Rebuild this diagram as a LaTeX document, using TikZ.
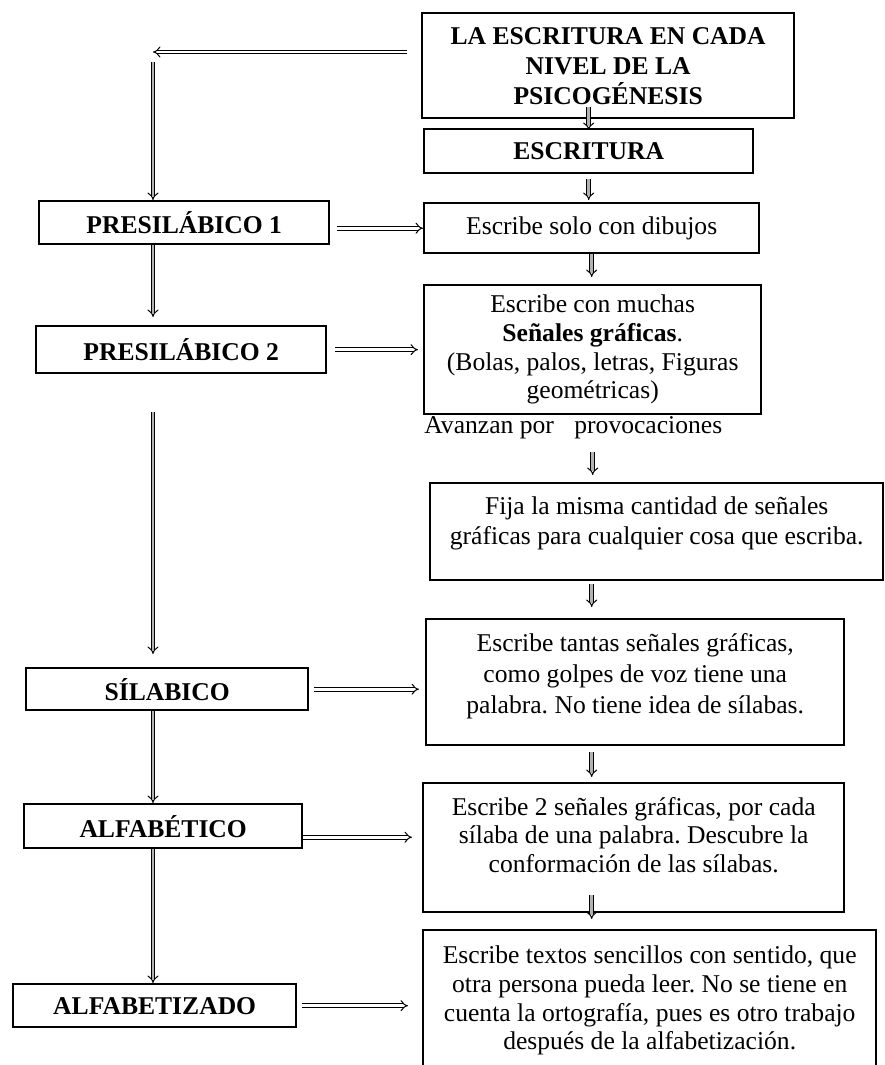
\documentclass[tikz,border=0pt]{standalone}
\usepackage{fontspec}
\setmainfont{Liberation Serif}
\frenchspacing
\usetikzlibrary{arrows.meta,positioning}
\newcommand{\cajatexto}[3]{\parbox[c][#1][t]{#2}{\centering\vspace*{5pt}#3}}

\begin{document}
\begin{tikzpicture}[x=0.5pt,y=-0.5pt,
    every node/.style={font=\fontsize{12.8}{15}\selectfont},
    caja/.style={draw,line width=1.2pt,anchor=north west,inner sep=2pt,align=flush center},
    nivel/.style={caja,font=\fontsize{12.8}{15}\selectfont\bfseries},
    flecha/.style={draw,line width=0.5pt,double=white,double distance=1.4pt,-{Implies}},
    bajada/.style={flecha,double=gray!60}]
       \clip (0,0) rectangle (884,1065);

       % columna derecha
        \node[nivel,minimum width=186pt,minimum height=52.5pt] (titulo) at (421,12) {LA ESCRITURA EN CADA\\NIVEL DE LA\\PSICOGÉNESIS};
        \node[nivel,minimum width=164.5pt,minimum height=22pt] (escritura) at (423,128) {ESCRITURA};
        \node[caja,minimum width=167.5pt,minimum height=25pt] (dibujos) at (423,202) {Escribe solo con dibujos};
        \node[caja,minimum width=168.5pt,minimum height=64.5pt,font=\fontsize{12.8}{14.3}\selectfont] (muchas) at (423,284) {Escribe con muchas\\\textbf{Señales gráficas}.\\(Bolas, palos, letras, Figuras\\geométricas)};
        \node[anchor=west,inner sep=0pt] (avanzan) at (424,428) {Avanzan por\hspace{7pt} provocaciones};
        \node[caja] (fija) at (429,482) {\cajatexto{44.5pt}{222.5pt}{Fija la misma cantidad de señales\\gráficas para cualquier cosa que escriba.}};
        \node[caja,font=\fontsize{12.8}{15.5}\selectfont] (tantas) at (425,618) {\cajatexto{59pt}{205pt}{Escribe tantas señales gráficas,\\como golpes de voz tiene una\\palabra. No tiene idea de sílabas.}};
        \node[caja,font=\fontsize{12.8}{14.3}\selectfont] (dos) at (422,782) {\cajatexto{60.5pt}{206.5pt}{Escribe 2 señales gráficas, por cada\\sílaba de una palabra. Descubre la\\conformación de las sílabas.}};
        \node[caja,text width=222.5pt,minimum height=70.5pt,font=\fontsize{12.8}{14.3}\selectfont] (textos) at (422,929) {Escribe textos sencillos con sentido, que\\otra persona pueda leer. No se tiene en\\cuenta la ortografía, pues es otro trabajo\\después de la alfabetización.};

       % columna izquierda
        \node[nivel,minimum width=145pt,minimum height=21.5pt] (pres1) at (38,200) {PRESILÁBICO 1};
        \node[nivel,minimum width=145pt,minimum height=23.5pt] (pres2) at (35,325) {PRESILÁBICO 2};
        \node[nivel,minimum width=141pt,minimum height=21pt] (silabico) at (25,667) {SÍLABICO};
        \node[nivel,minimum width=139pt,minimum height=22pt] (alfabetico) at (23,803) {ALFABÉTICO};
        \node[nivel,minimum width=141.5pt,minimum height=21.5pt] (alfabetizado) at (12,983) {ALFABETIZADO};

        \coordinate (esquina) at (153,52);

       % flechas
        \draw[flecha,shorten <=7pt] (titulo.west |- esquina) -- (esquina);
        \draw[bajada,shorten <=5pt] (esquina) -- (esquina |- pres1.north);
        \draw[bajada,shorten <=-6pt,shorten >=-1pt] (escritura.north |- titulo.south) -- (escritura.north);
        \draw[bajada,shorten <=2.5pt,shorten >=1pt] (escritura.south) -- (escritura.south |- dibujos.north);
        \draw[bajada,shorten >=3.5pt] (dibujos.south) -- (dibujos.south |- muchas.north);
        \draw[bajada,shorten <=6pt,shorten >=3.5pt] (muchas.south |- avanzan.south) -- (muchas.south |- fija.north);
        \draw[bajada,shorten <=1.5pt,shorten >=5.5pt] (dibujos.south |- fija.south) -- (dibujos.south |- tantas.north);
        \draw[bajada,shorten <=3pt,shorten >=2.5pt] (dibujos.south |- tantas.south) -- (dibujos.south |- dos.north);
        \draw[bajada,shorten <=-9pt,shorten >=5pt] (dibujos.south |- dos.south) -- (dibujos.south |- textos.north);

        \draw[flecha,shorten <=3.5pt] (pres1.east |- dibujos.west) -- (dibujos.west);
        \draw[flecha,shorten <=4pt,shorten >=2.5pt] (pres2.east) -- (pres2.east -| muchas.west);
        \draw[flecha,shorten <=2.5pt,shorten >=3pt] (silabico.east) -- (silabico.east -| tantas.west);
        \draw[flecha,shorten >=5pt] ([yshift=-5.5pt]alfabetico.east) -- ([yshift=-5.5pt]alfabetico.east -| dos.west);
        \draw[flecha,shorten <=2.5pt,shorten >=7pt] (alfabetizado.east) -- (alfabetizado.east -| textos.west);

        \draw[bajada,shorten >=4pt] (pres1.south -| esquina) -- (pres2.north -| esquina);
        \draw[bajada,shorten <=19pt,shorten >=6.5pt] (pres2.south -| esquina) -- (silabico.north -| esquina);
        \draw[bajada] (silabico.south -| esquina) -- (alfabetico.north -| esquina);
        \draw[bajada] (alfabetico.south -| esquina) -- (alfabetizado.north -| esquina);
      \end{tikzpicture}
\end{document}
